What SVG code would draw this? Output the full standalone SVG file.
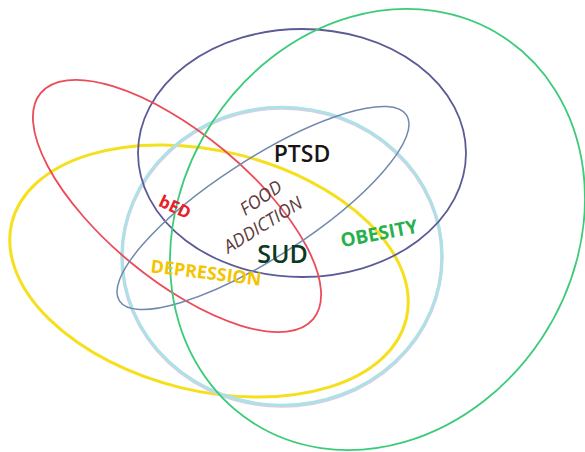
<svg xmlns="http://www.w3.org/2000/svg" width="585" height="452" viewBox="0 0 585 452">
<style>
.e{fill:none}
.t{font-family:"Open Sans","Liberation Sans",sans-serif;text-anchor:middle}
</style>
<rect width="585" height="452" fill="#ffffff"/>
<g id="depression">
<ellipse class="e" cx="209" cy="271" rx="203" ry="120" transform="rotate(13.7 209 271)" stroke="#f6e01e" stroke-width="3"/>
</g>
<g id="sud">
<ellipse class="e" cx="282" cy="257" rx="160" ry="149" stroke="#d4cfe6" stroke-width="3.5"/>
<ellipse class="e" cx="282" cy="256" rx="160" ry="149" stroke="#a9e3e6" stroke-width="2.5"/>
</g>
<g id="ptsd">
<ellipse class="e" cx="302" cy="153" rx="164" ry="124" stroke="#5b5b96" stroke-width="1.8"/>
</g>
<g id="bed">
<ellipse class="e" cx="177" cy="206" rx="177" ry="73" transform="rotate(39.6 177 206)" stroke="#ec4b58" stroke-width="1.8"/>
</g>
<g id="food-addiction">
<ellipse class="e" cx="263" cy="208" rx="171" ry="49" transform="rotate(-32.9 263 208)" stroke="#7189ad" stroke-width="1.5"/>
</g>
<g id="obesity">
<ellipse class="e" cx="377.5" cy="229.5" rx="230" ry="197" transform="rotate(-56.75 377.5 229.5)" stroke="#3ccb78" stroke-width="1.8"/>
</g>
<g id="labels">
<text class="t" x="302" y="162" font-size="23" font-weight="600" fill="#1a1414">PTSD</text>
<text class="t" x="282.5" y="263" font-size="25" font-weight="600" fill="#0b3a20">SUD</text>
<text class="t" transform="translate(175 207) rotate(25)" y="6" font-size="17" font-weight="700" fill="#e8202a">bED</text>
<text class="t" transform="translate(261 198) rotate(-35)" y="6" font-size="18" font-style="italic" fill="#5e3a3c">FOOD</text>
<text class="t" transform="translate(263 225) rotate(-32)" y="6" font-size="18" font-style="italic" fill="#5e3a3c">ADDICTION</text>
<text class="t" transform="translate(379 233) rotate(-11)" y="7" font-size="19" font-weight="700" fill="#27b04b">OBESITY</text>
<text class="t" transform="translate(206 273) rotate(7)" y="6" font-size="18" font-weight="700" fill="#f5c400">DEPRESSION</text>
</g>
</svg>
